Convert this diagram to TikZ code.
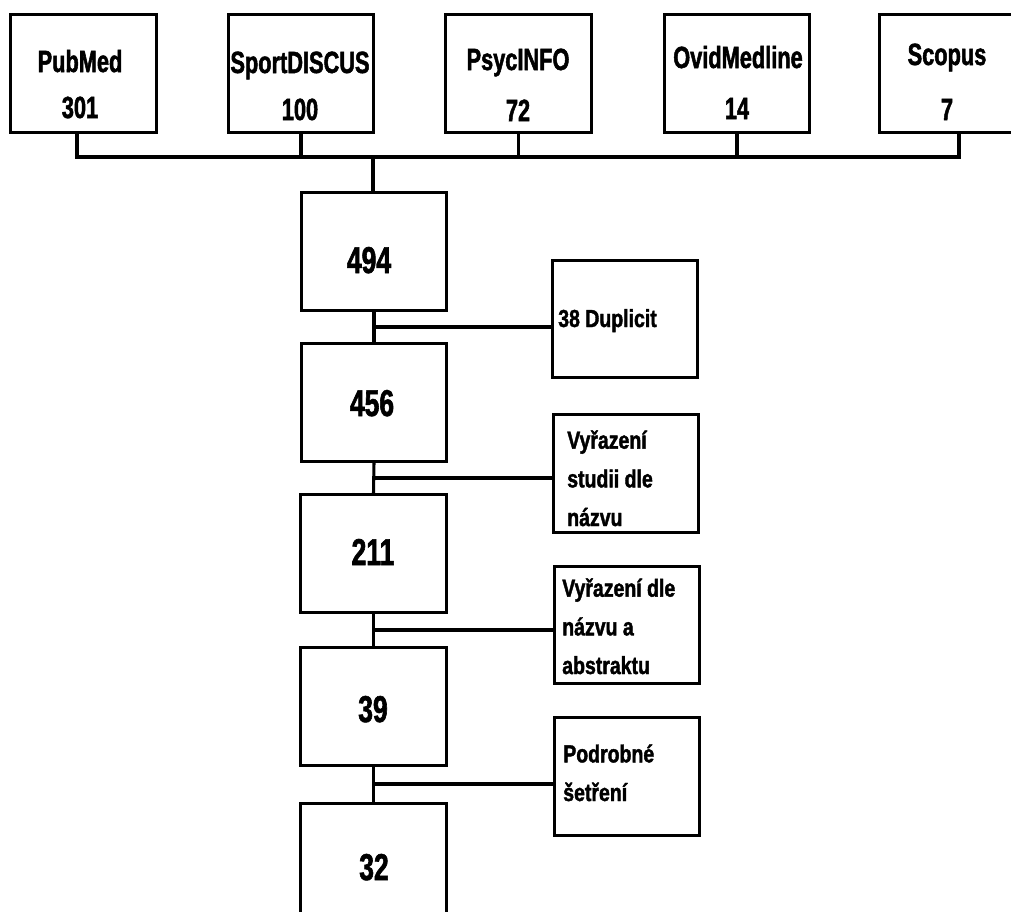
\documentclass[tikz,border=0pt]{standalone}
\usepackage{fontspec}
\setmainfont{Liberation Sans}
\newfontfamily\fontA{Liberation Sans}[FakeStretch=0.71, BoldFeatures={FakeBold=1.6}]
\newfontfamily\fontB{Liberation Sans}[FakeStretch=0.79, BoldFeatures={FakeBold=1.6}]
\usetikzlibrary{calc}
\begin{document}
\begin{tikzpicture}[x=0.75pt,y=-0.75pt,
  box/.style={draw, line width=2.2pt, inner sep=0pt, minimum width=109pt, minimum height=88pt},
  conn/.style={line width=2.3pt},
  sideconn/.style={line width=2.8pt},
  toptext/.style={inner sep=0pt, anchor=base, font=\fontA\bfseries\fontsize{23}{27}\selectfont},
  numtext/.style={inner sep=0pt, anchor=base, font=\fontA\bfseries\fontsize{28}{33}\selectfont},
  sidetext/.style={inner sep=0pt, anchor=north west, align=left, font=\fontB\bfseries\fontsize{18.5}{29}\selectfont}]
\useasboundingbox (0,0) rectangle (1011,911);
\fill[white] (0,0) rectangle (1011,911);

% top source boxes
\node[box] (pub) at (83.5,73.5) {};
\node[box] (spo) at (301,73.5) {};
\node[box] (psy) at (518.5,73.5) {};
\node[box] (ovi) at (737,73.5) {};
\node[box] (sco) at (952,73.5) {};

\node[toptext] (pubA) at (80,72) {PubMed};
\node[toptext] (pubB) at (80,118) {301};
\node[toptext] (spoA) at (300,73) {SportDISCUS};
\node[toptext] (spoB) at (300,120) {100};
\node[toptext] (psyA) at (518,70) {PsycINFO};
\node[toptext] (psyB) at (518,121) {72};
\node[toptext] (oviA) at (738,68) {OvidMedline};
\node[toptext] (oviB) at (737,119) {14};
\node[toptext] (scoA) at (947,65) {Scopus};
\node[toptext] (scoB) at (947,120) {7};

% central chain
\node[box] (n494) at (374,251.5) {};
\node[box] (n456) at (374,402.5) {};
\node[box] (n211) at (373.5,553.5) {};
\node[box] (n39)  at (373.5,706.5) {};
\node[box] (n32)  at (373.5,862) {};

\node[numtext] (t494) at (369,273) {494};
\node[numtext] (t456) at (372,416) {456};
\node[numtext] (t211) at (373,565) {211};
\node[numtext] (t39)  at (373,722) {39};
\node[numtext] (t32)  at (374,880) {32};

% side boxes
\node[box] (dup) at (625,319) {};
\node[box] (vs1) at (626,473.5) {};
\node[box] (vs2) at (627,625) {};
\node[box] (pod) at (627,776.5) {};

\node[inner sep=0pt, anchor=base west, font=\fontB\bfseries\fontsize{18.5}{29}\selectfont] (dupT) at (558,327) {38 Duplicit};
\node[sidetext] (vs1T) at (567,430) {Vyřazení\\studii dle\\názvu};
\node[sidetext] (vs2T) at (562,578) {Vyřazení dle\\názvu a\\abstraktu};
\node[sidetext] (podT) at (563,744) {Podrobné\\šetření};

% bus
\coordinate (bus) at (373,157);
\draw[conn] ($(pub.south)+(-6.5,0)$) -- ($(pub.south |- bus)+(-6.5,0)$) -- ($(sco.south |- bus)+(7,0)$) -- ($(sco.south)+(7,0)$);
\draw[conn] (spo.south) -- (spo.south |- bus);
\draw[conn] (psy.south) -- (psy.south |- bus);
\draw[conn] (ovi.south) -- (ovi.south |- bus);
\draw[conn] (bus) -- (bus |- n494.north);

% chain connectors with side branches
\coordinate (j1) at ($(n494.south)!0.5!(n456.north)$);
\coordinate (j2) at ($(n456.south)!0.5!(n211.north)$);
\coordinate (j3) at ($(n211.south)!0.5!(n39.north)$);
\coordinate (j4) at ($(n39.south)!0.5!(n32.north)$);
\draw[conn] (n494.south) -- (n456.north);
\draw[conn] (n456.south) -- (n211.north);
\draw[conn] (n211.south) -- (n39.north);
\draw[conn] (n39.south) -- (n32.north);
\draw[sideconn] (j1) -- (j1 -| dup.west);
\draw[sideconn] (j2) -- (j2 -| vs1.west);
\draw[sideconn] (j3) -- (j3 -| vs2.west);
\draw[sideconn] (j4) -- (j4 -| pod.west);
\end{tikzpicture}
\end{document}
